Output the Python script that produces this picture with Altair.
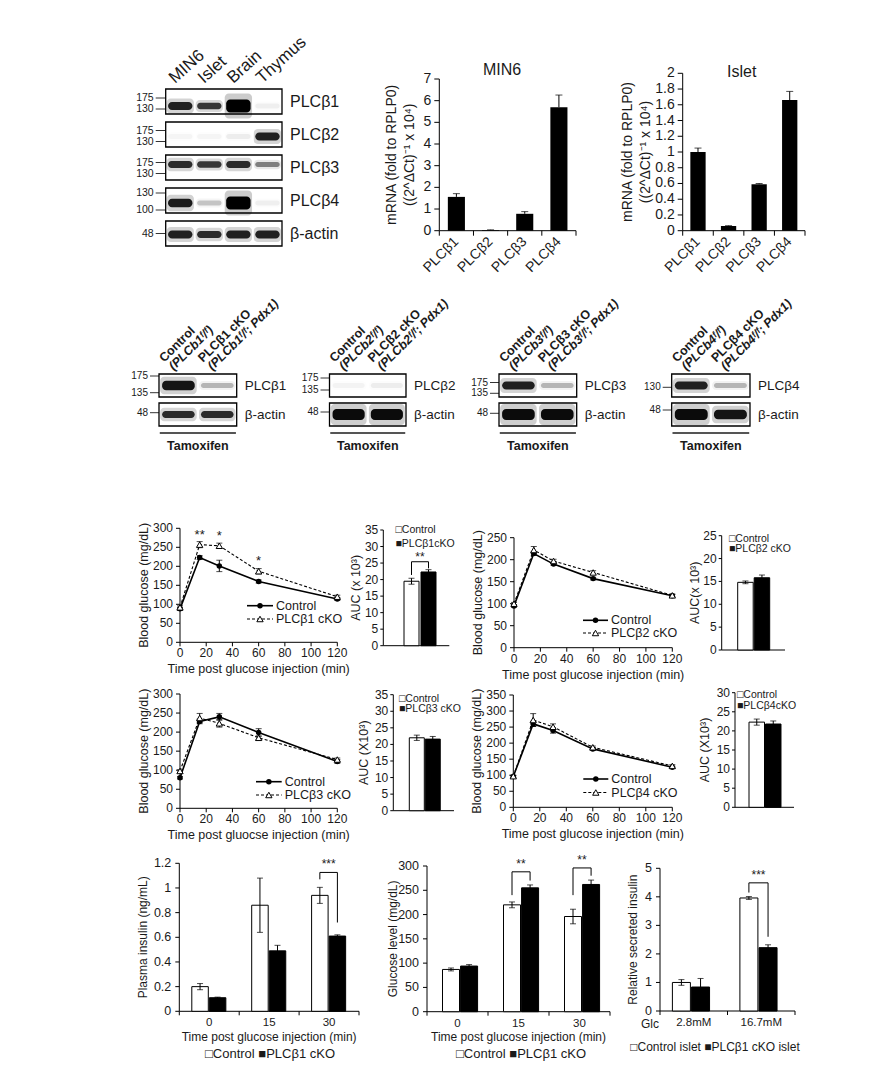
import altair as alt
import pandas as pd

W, H = 880, 1062


def X(p):
    return round(p - 8.0, 2)


def Y(p):
    return round(p - 8.0, 2)


FONT = "Liberation Sans, Arial, Helvetica, sans-serif"
INK = "#1a1a1a"

# ---------------- data ----------------
tissues = ["MIN6", "Islet", "Brain", "Thymus"]
wb_proteins = ["PLCβ1", "PLCβ2", "PLCβ3", "PLCβ4", "β-actin"]
wb_levels = [
    [0.85, 0.75, 1.00, 0.05],
    [0.03, 0.03, 0.06, 0.85],
    [0.80, 0.75, 0.80, 0.45],
    [0.88, 0.20, 1.00, 0.05],
    [0.85, 0.80, 0.85, 0.85],
]
wb_markers = [["175", "130"], ["175", "130"], ["175", "130"], ["130", "100"], ["48"]]

genes = ["PLCβ1", "PLCβ2", "PLCβ3", "PLCβ4"]
min6_mean = [1.56, 0.03, 0.78, 5.70]
min6_err = [0.15, 0.01, 0.10, 0.56]
islet_mean = [1.00, 0.06, 0.59, 1.66]
islet_err = [0.05, 0.004, 0.01, 0.11]
mrna_title = ["mRNA (fold to RPLP0)", "((2^ΔCt)⁻¹ x 10⁴)"]

ko_levels = {
    1: [[0.90, 0.25], [0.80, 0.80]],
    2: [[0.04, 0.06], [0.95, 0.95]],
    3: [[0.85, 0.25], [0.95, 0.95]],
    4: [[0.85, 0.25], [0.95, 0.90]],
}
ko_markers = {
    1: [["175", "135"], ["48"]],
    2: [["175", "135"], ["48"]],
    3: [["175", "135"], ["48"]],
    4: [["130"], ["48"]],
}
treatment = "Tamoxifen"

times = [0, 15, 30, 60, 120]
gtt = {
    1: dict(c=[88, 223, 201, 160, 114], ce=[4, 5, 15, 4, 4],
            k=[92, 257, 254, 187, 120], ke=[4, 8, 7, 7, 4]),
    2: dict(c=[95, 214, 190, 157, 118], ce=[3, 4, 3, 3, 3],
            k=[100, 222, 197, 171, 119], ke=[3, 8, 4, 4, 3]),
    3: dict(c=[80, 228, 240, 199, 123], ce=[3, 6, 9, 10, 5],
            k=[98, 237, 223, 185, 128], ke=[3, 12, 10, 5, 4]),
    4: dict(c=[96, 260, 239, 182, 125], ce=[3, 8, 8, 4, 3],
            k=[97, 272, 251, 187, 129], ke=[3, 20, 9, 4, 4]),
}
gtt1_stars_t = [15, 30, 60]
gtt1_stars_y = [283, 281, 215]
gtt1_stars = ["**", "*", "*"]
glucose_title = "Blood glucose (mg/dL)"

auc = {
    1: dict(c=19.5, ce=0.9, k=22.3, ke=0.7),
    2: dict(c=14.8, ce=0.3, k=15.8, ke=0.6),
    3: dict(c=22.0, ce=0.8, k=21.6, ke=0.8),
    4: dict(c=22.3, ce=0.8, k=21.8, ke=0.8),
}
auc_titles = {1: "AUC (x 10³)", 2: "AUC(x 10³)", 3: "AUC (X10³)", 4: "AUC (X10³)"}
auc_ko_names = {1: "PLCβ1cKO", 2: "PLCβ2 cKO", 3: "PLCβ3 cKO", 4: "PLCβ4cKO"}

ins_groups = ["0", "15", "30"]
ins_ctl = [0.20, 0.86, 0.94]
ins_ctl_e = [0.025, 0.22, 0.065]
ins_ko = [0.11, 0.49, 0.61]
ins_ko_e = [0.005, 0.045, 0.01]

glu_groups = ["0", "15", "30"]
glu_ctl = [87, 220, 196]
glu_ctl_e = [3, 6, 15]
glu_ko = [94, 255, 262]
glu_ko_e = [3, 6, 9]

rel_groups = ["2.8mM", "16.7mM"]
rel_ctl = [1.00, 3.96]
rel_ctl_e = [0.10, 0.05]
rel_ko = [0.84, 2.22]
rel_ko_e = [0.30, 0.10]

time_title = "Time post glucose injection (min)"
time_title_typo = "Time post gluocse injection (min)"

layers = []


# ---------------- helpers ----------------
def qs(domain, r0, r1):
    return alt.Scale(domain=domain, range=[r0, r1], nice=False, zero=False)


def txt(size, **kw):
    base = dict(fontSize=size, font=FONT, color=INK)
    base.update(kw)
    return base


def free_text(t, px, py, size, align="left", weight="normal", angle=0, style="normal"):
    xs = qs([0, 1], X(px), X(px) + 1)
    ys = qs([0, 1], Y(py), Y(py) + 1)
    df = pd.DataFrame({"t": [t], "p": [0]})
    return alt.Chart(df).mark_text(
        **txt(size, align=align, baseline="middle", fontWeight=weight, angle=angle, fontStyle=style)
    ).encode(
        x=alt.X("p:Q", scale=xs, axis=None),
        y=alt.Y("p:Q", scale=ys, axis=None),
        text="t:N",
    )


def axis_layer(x0, x1, ybot, ytop, xdom, ymax, yvals, xticks, xlabels, ytitles, xtitle=None,
               lab_size=12, title_size=13, tick=4, ylab_gap=3, xlab_gap=3, xtitle_gap=24,
               xlab_angle=0, ylab_size=None, xlab_size=None):
    """Axis lines, ticks, tick labels and titles drawn through the panel's scales."""
    xs = qs(xdom, X(x0), X(x1))
    ys = qs([0, ymax], Y(ybot), Y(ytop))
    ux = (xdom[1] - xdom[0]) / (x1 - x0)
    uy = ymax / (ybot - ytop)

    def ex(f):
        return alt.X(f, type="quantitative", scale=xs, axis=None)

    def ey(f):
        return alt.Y(f, type="quantitative", scale=ys, axis=None)

    segs = [dict(a=xdom[0], b=xdom[0], c=0, d=ymax), dict(a=xdom[0], b=xdom[1], c=0, d=0)]
    for v in yvals:
        segs.append(dict(a=xdom[0] - tick * ux, b=xdom[0], c=v, d=v))
    for t in xticks:
        segs.append(dict(a=t, b=t, c=0, d=-tick * uy))
    out = [alt.Chart(pd.DataFrame(segs)).mark_rule(color="black", strokeWidth=1)
           .encode(x=ex("a"), x2="b", y=ey("c"), y2="d")]

    yl = pd.DataFrame({"v": yvals, "t": [f"{v:g}" for v in yvals],
                       "x": [xdom[0] - (tick + ylab_gap) * ux] * len(yvals)})
    out.append(alt.Chart(yl).mark_text(**txt(ylab_size or lab_size, align="right", baseline="middle"))
               .encode(x=ex("x"), y=ey("v"), text="t:N"))

    if xlabels:
        xl = pd.DataFrame({"p": [p for p, _ in xlabels], "t": [s for _, s in xlabels],
                           "y": [-(tick + xlab_gap) * uy] * len(xlabels)})
        if xlab_angle:
            mk = txt(xlab_size or lab_size, align="right", baseline="middle", angle=xlab_angle)
        else:
            mk = txt(xlab_size or lab_size, align="center", baseline="top")
        out.append(alt.Chart(xl).mark_text(**mk).encode(x=ex("p"), y=ey("y"), text="t:N"))

    if ytitles:
        yt = pd.DataFrame({"t": [s for s, _ in ytitles],
                           "x": [xdom[0] - g * ux for _, g in ytitles],
                           "y": [ymax / 2] * len(ytitles)})
        out.append(alt.Chart(yt).mark_text(**txt(title_size, align="center", baseline="middle", angle=270))
                   .encode(x=ex("x"), y=ey("y"), text="t:N"))
    if xtitle:
        xt = pd.DataFrame({"t": [xtitle], "x": [(xdom[0] + xdom[1]) / 2], "y": [-xtitle_gap * uy]})
        out.append(alt.Chart(xt).mark_text(**txt(title_size, align="center", baseline="middle"))
                   .encode(x=ex("x"), y=ey("y"), text="t:N"))
    return alt.layer(*out)


def band_pair_scale(r0, r1, bar_left, bar_w):
    """Padding / align of a two-band scale so that bars sit where they do in the figure."""
    R = r1 - r0
    pI = 0.06
    step = bar_w / (1 - pI)
    pO = (R / step - (2 - pI)) / 2
    if pO > 1:
        pO = 1.0
        pI = max(0.0, (R - 4 * bar_w) / (R - bar_w))
        step = R / (4 - pI)
    pO = max(pO, 0.0)
    outer = 2 * pO * step
    align = min(1.0, max(0.0, (bar_left - r0) / outer)) if outer > 0 else 0.5
    return pI, pO, align, step


def blot(rows, levels, markers, x0, x1, ytop, dyrow, fhalf, mk_off, band_off,
         row_font, mk_font, lane_specs, tam=None, tick_px=10):
    n = len(levels[0])
    m = len(rows)
    lane_px = (x1 - x0) / n
    xs = qs([0, n], X(x0), X(x1))
    ys = qs([0, m], Y(ytop), Y(ytop + m * dyrow))
    fh = fhalf / dyrow

    def ex(f):
        return alt.X(f, type="quantitative", scale=xs, axis=None)

    def ey(f):
        return alt.Y(f, type="quantitative", scale=ys, axis=None)

    fr = pd.DataFrame({
        "a": [0] * m, "b": [n] * m,
        "c": [j + 0.5 - fh for j in range(m)],
        "d": [j + 0.5 + fh for j in range(m)],
    })
    out = [alt.Chart(fr).mark_rect(fill="white", stroke="black", strokeWidth=1.3)
           .encode(x=ex("a"), x2="b", y=ey("c"), y2="d")]

    br = []
    for j, row in enumerate(levels):
        for i, lv in enumerate(row):
            h = (2.4 + 4.2 * lv ** 6) / dyrow
            cy = j + 0.5 + band_off[j] / dyrow
            br.append(dict(a=i + 0.03, b=i + 0.97, c=cy - 1.9 * h, d=cy + 1.9 * h, o=0.2 * lv))
            br.append(dict(a=i + 0.08, b=i + 0.92, c=cy - h, d=cy + h, o=lv))
    out.append(alt.Chart(pd.DataFrame(br)).mark_rect(color="black", cornerRadius=4)
               .encode(x=ex("a"), x2="b", y=ey("c"), y2="d",
                       opacity=alt.Opacity("o:Q", scale=None)))

    mk = []
    for j, labs in enumerate(markers):
        for lab, off in zip(labs, mk_off[j]):
            mk.append(dict(t=lab, y=j + 0.5 + off / dyrow, a=-tick_px / lane_px, b=0))
    mkd = pd.DataFrame(mk)
    out.append(alt.Chart(mkd).mark_rule(color="black", strokeWidth=0.8)
               .encode(x=ex("a"), x2="b", y=ey("y")))
    out.append(alt.Chart(mkd).mark_text(**txt(mk_font, align="right", baseline="middle", dx=-2))
               .encode(x=ex("a"), y=ey("y"), text="t:N"))

    rl = pd.DataFrame({"t": rows, "x": [n] * m, "y": [j + 0.5 for j in range(m)]})
    out.append(alt.Chart(rl).mark_text(**txt(row_font, align="left", baseline="middle", dx=8))
               .encode(x=ex("x"), y=ey("y"), text="t:N"))

    for spec in lane_specs:
        ld = pd.DataFrame({
            "t": spec["texts"],
            "x": [i + spec["pos"] for i in range(n)],
            "y": [0.5 - fh - spec["gap"] / dyrow] * n,
        })
        out.append(alt.Chart(ld).mark_text(**txt(
            spec["size"], align="left", baseline="alphabetic",
            fontWeight=spec.get("weight", "normal"), fontStyle=spec.get("style", "normal"),
            angle=spec["angle"], dx=spec.get("dx", 0), dy=spec.get("dy", 0),
        )).encode(x=ex("x"), y=ey("y"), text="t:N"))

    if tam is not None:
        ty_line = (tam["line"] - ytop) / dyrow
        ty_text = (tam["text"] - ytop) / dyrow
        td = pd.DataFrame({"a": [0.02], "b": [n - 0.02], "y": [ty_line], "y2": [ty_text],
                           "m": [n / 2], "t": [treatment]})
        out.append(alt.Chart(td).mark_rule(color="#555", strokeWidth=2.2)
                   .encode(x=ex("a"), x2="b", y=ey("y")))
        out.append(alt.Chart(td).mark_text(**txt(12.5, fontWeight="bold", baseline="middle"))
                   .encode(x=ex("m"), y=ey("y2"), text="t:N"))
    return alt.layer(*out)


def mrna_panel(mean, err, x0, x1, ybot, ytop, ymax):
    df = pd.DataFrame({"g": genes, "v": mean, "hi": [a + b for a, b in zip(mean, err)]})
    xs = alt.Scale(type="band", domain=genes, range=[X(x0), X(x1)], paddingInner=0.5, paddingOuter=0.25)
    ys = qs([0, ymax], Y(ybot), Y(ytop))
    ex = alt.X("g:N", scale=xs, sort=genes, axis=None)
    base = alt.Chart(df)
    bars = base.mark_bar(color="black").encode(x=ex, y=alt.Y("v:Q", scale=ys, axis=None))
    er = base.mark_rule(color="black").encode(x=ex, y=alt.Y("v:Q", scale=ys, axis=None), y2="hi:Q")
    cap = base.mark_tick(orient="horizontal", size=7, thickness=1, color="black").encode(
        x=ex, y=alt.Y("hi:Q", scale=ys, axis=None))
    return alt.layer(bars, er, cap)


def gtt_panel(d, x0, x1, ybot, ytop, ymax, stars=None):
    rows = []
    for s, vals, errs in (("ctl", d["c"], d["ce"]), ("ko", d["k"], d["ke"])):
        for t, v, e in zip(times, vals, errs):
            rows.append(dict(s=s, t=t, v=v, lo=v - e, hi=v + e))
    df = pd.DataFrame(rows)
    xs = qs([0, 120], X(x0), X(x1))
    ys = qs([0, ymax], Y(ybot), Y(ytop))
    ex = alt.X("t:Q", scale=xs, axis=None)
    ey = alt.Y("v:Q", scale=ys, axis=None)
    base = alt.Chart(df)
    ctl = base.transform_filter("datum.s == 'ctl'")
    ko = base.transform_filter("datum.s == 'ko'")
    out = [
        base.mark_rule(color="black", strokeWidth=1).encode(
            x=ex, y=alt.Y("lo:Q", scale=ys, axis=None), y2="hi:Q"),
        base.mark_tick(orient="horizontal", size=6, thickness=1, color="black").encode(
            x=ex, y=alt.Y("hi:Q", scale=ys, axis=None)),
        base.mark_tick(orient="horizontal", size=6, thickness=1, color="black").encode(
            x=ex, y=alt.Y("lo:Q", scale=ys, axis=None)),
        ctl.mark_line(color="black", strokeWidth=1.6).encode(x=ex, y=ey),
        ko.mark_line(color="black", strokeWidth=1.1, strokeDash=[3, 2]).encode(x=ex, y=ey),
        ctl.mark_point(shape="circle", filled=True, color="black", size=30, opacity=1).encode(x=ex, y=ey),
        ko.mark_point(shape="triangle-up", filled=True, fill="white", stroke="black",
                      strokeWidth=1, size=40, opacity=1).encode(x=ex, y=ey),
    ]
    if stars:
        sd = pd.DataFrame({"t": stars[0], "v": stars[1], "s": stars[2]})
        out.append(alt.Chart(sd).mark_text(**txt(13, baseline="middle"))
                   .encode(x=ex, y=ey, text="s:N"))
    return alt.layer(*out)


def gtt_legend(ko_name, l0, l1, yc, yk, size=12.5):
    xs = qs([0, 1], X(l0), X(l1))
    ys = alt.Scale(type="point", domain=["ctl", "ko"], range=[Y(yc), Y(yk)], padding=0)
    df = pd.DataFrame({"s": ["ctl", "ko"], "lab": ["Control", ko_name],
                       "a": [0, 0], "b": [1, 1], "m": [0.5, 0.5]})
    ey = alt.Y("s:N", scale=ys, axis=None)
    base = alt.Chart(df)
    ctl = base.transform_filter("datum.s == 'ctl'")
    ko = base.transform_filter("datum.s == 'ko'")
    return alt.layer(
        ctl.mark_rule(color="black", strokeWidth=1.6).encode(
            x=alt.X("a:Q", scale=xs, axis=None), x2="b", y=ey),
        ko.mark_rule(color="black", strokeWidth=1.1, strokeDash=[3, 2]).encode(
            x=alt.X("a:Q", scale=xs, axis=None), x2="b", y=ey),
        ctl.mark_point(shape="circle", filled=True, color="black", size=30, opacity=1).encode(
            x=alt.X("m:Q", scale=xs, axis=None), y=ey),
        ko.mark_point(shape="triangle-up", filled=True, fill="white", stroke="black",
                      strokeWidth=1, size=40, opacity=1).encode(
            x=alt.X("m:Q", scale=xs, axis=None), y=ey),
        base.mark_text(**txt(size, align="left", baseline="middle", dx=3)).encode(
            x=alt.X("b:Q", scale=xs, axis=None), y=ey, text="lab:N"),
    )


def auc_panel(d, x0, x1, ybot, ytop, ymax, bar_left, bar_w, bracket=None):
    s = ["ctl", "ko"]
    pI, pO, align, step = band_pair_scale(x0, x1, bar_left, bar_w)
    xs = alt.Scale(type="band", domain=s, range=[X(x0), X(x1)], paddingInner=pI,
                   paddingOuter=pO, align=align)
    ys = qs([0, ymax], Y(ybot), Y(ytop))
    df = pd.DataFrame({"s": s, "v": [d["c"], d["k"]],
                       "lo": [d["c"] - d["ce"], d["k"] - d["ke"]],
                       "hi": [d["c"] + d["ce"], d["k"] + d["ke"]]})
    ex = alt.X("s:N", scale=xs, sort=s, axis=None)
    base = alt.Chart(df)
    out = [
        base.mark_bar(stroke="black", strokeWidth=1).encode(
            x=ex, y=alt.Y("v:Q", scale=ys, axis=None),
            fill=alt.condition("datum.s == 'ctl'", alt.value("white"), alt.value("black"))),
        base.mark_rule(color="black").encode(x=ex, y=alt.Y("lo:Q", scale=ys, axis=None), y2="hi:Q"),
        base.mark_tick(orient="horizontal", size=6, thickness=1, color="black").encode(
            x=ex, y=alt.Y("hi:Q", scale=ys, axis=None)),
        base.mark_tick(orient="horizontal", size=6, thickness=1, color="black").encode(
            x=ex, y=alt.Y("lo:Q", scale=ys, axis=None)),
    ]
    if bracket:
        lo_l, top, lo_r, star = bracket
        bd = pd.DataFrame({"s": ["ctl", "ctl", "ko", "ko"], "y": [lo_l, top, top, lo_r], "o": [0, 1, 2, 3]})
        out.append(alt.Chart(bd).mark_line(color="black", strokeWidth=1).encode(
            x=ex, y=alt.Y("y:Q", scale=ys, axis=None), order="o:Q"))
        td = pd.DataFrame({"s": ["ctl"], "y": [top], "t": [star]})
        out.append(alt.Chart(td).mark_text(**txt(12, baseline="bottom", dx=step / 2, dy=2))
                   .encode(x=ex, y=alt.Y("y:Q", scale=ys, axis=None), text="t:N"))
    return alt.layer(*out)


def grouped_panel(groups, c, ce, k, ke, x0, x1, ybot, ytop, ymax, off0, bw, brackets):
    n = len(groups)
    gw = (x1 - x0) / n
    pI, pO, align, step = band_pair_scale(0.0, gw, off0, bw)
    xs = alt.Scale(type="band", domain=groups, range=[X(x0), X(x1)], paddingInner=0, paddingOuter=0)
    xo = alt.Scale(type="band", domain=["ctl", "ko"], paddingInner=pI, paddingOuter=pO, align=align)
    ys = qs([0, ymax], Y(ybot), Y(ytop))
    rows = []
    for s, vals, errs in (("ctl", c, ce), ("ko", k, ke)):
        for g, v, e in zip(groups, vals, errs):
            rows.append(dict(g=g, s=s, v=v, lo=v - e, hi=v + e))
    df = pd.DataFrame(rows)
    ex = alt.X("g:N", scale=xs, sort=groups, axis=None)
    eo = alt.XOffset("s:N", scale=xo, sort=["ctl", "ko"])
    base = alt.Chart(df)
    out = [
        base.mark_bar(stroke="black", strokeWidth=1).encode(
            x=ex, xOffset=eo, y=alt.Y("v:Q", scale=ys, axis=None),
            fill=alt.condition("datum.s == 'ctl'", alt.value("white"), alt.value("black"))),
        base.mark_rule(color="black").encode(
            x=ex, xOffset=eo, y=alt.Y("lo:Q", scale=ys, axis=None), y2="hi:Q"),
        base.mark_tick(orient="horizontal", size=6, thickness=1, color="black").encode(
            x=ex, xOffset=eo, y=alt.Y("hi:Q", scale=ys, axis=None)),
        base.mark_tick(orient="horizontal", size=6, thickness=1, color="black").encode(
            x=ex, xOffset=eo, y=alt.Y("lo:Q", scale=ys, axis=None)),
    ]
    if brackets:
        bl, tl = [], []
        for bi, (g, lo_l, top, lo_r, star) in enumerate(brackets):
            for o, (s, y) in enumerate([("ctl", lo_l), ("ctl", top), ("ko", top), ("ko", lo_r)]):
                bl.append(dict(id=bi, g=g, s=s, y=y, o=o))
            tl.append(dict(g=g, s="ctl", y=top, t=star))
        out.append(alt.Chart(pd.DataFrame(bl)).mark_line(color="black", strokeWidth=1).encode(
            x=ex, xOffset=eo, y=alt.Y("y:Q", scale=ys, axis=None), order="o:Q", detail="id:N"))
        out.append(alt.Chart(pd.DataFrame(tl)).mark_text(**txt(12, baseline="bottom", dx=step / 2, dy=-1))
                   .encode(x=ex, xOffset=eo, y=alt.Y("y:Q", scale=ys, axis=None), text="t:N"))
    return alt.layer(*out)


def cat_axis(cats):
    """Tick positions (band edges) and label positions (band centres) in category units."""
    return list(range(len(cats) + 1)), [(i + 0.5, c) for i, c in enumerate(cats)]


# ---------------- Row 1 ----------------
layers.append(blot(
    wb_proteins, wb_levels, wb_markers, 165.7, 282.0, 85.0, 33.0, 12.5,
    [[-3.5, 7.5], [-4, 7], [-5, 6], [-7.5, 9.5], [0]],
    [4.5, 2, -3, 2.5, 1], 16, 10.5,
    [dict(texts=tissues, pos=0.32, gap=5, size=17, angle=318)],
    tick_px=10,
))

for mean, err, x0, x1, ytop, ymax, yvals, gaps in (
    (min6_mean, min6_err, 439.3, 576.0, 79.0, 7, list(range(0, 8)), (47, 29)),
    (islet_mean, islet_err, 682.7, 805.0, 73.3, 2, [round(0.2 * i, 1) for i in range(11)], (55, 37)),
):
    layers.append(mrna_panel(mean, err, x0, x1, 230.7, ytop, ymax))
    ticks, labs = cat_axis(genes)
    layers.append(axis_layer(
        x0, x1, 230.7, ytop, [0, len(genes)], ymax, yvals, ticks, labs,
        [(mrna_title[0], gaps[0]), (mrna_title[1], gaps[1])],
        lab_size=14, title_size=14, tick=5, ylab_gap=3, xlab_gap=4, xlab_angle=315, ylab_size=14,
    ))
layers.append(free_text("MIN6", 502, 70, 16, align="center"))
layers.append(free_text("Islet", 741.7, 71.7, 16, align="center"))

# ---------------- Row 2 ----------------
ko_boxes = {1: (159.0, 236.7), 2: (329.5, 406.0), 3: (499.0, 576.7), 4: (671.7, 750.0)}
ko_mk_off = {1: [[-9.5, 7.2], [-1.8]], 2: [[-7.5, 4.5], [-2.5]],
             3: [[-3, 7.8], [-1.2]], 4: [[1.8], [-4.5]]}
for kk in (1, 2, 3, 4):
    x0, x1 = ko_boxes[kk]
    line1 = ["Control", f"PLCβ{kk} cKO"]
    line2 = [f"(PLCb{kk}ᶠ/ᶠ)", f"(PLCb{kk}ᶠ/ᶠ; Pdx1)"]
    layers.append(blot(
        [f"PLCβ{kk}", "β-actin"], ko_levels[kk], ko_markers[kk], x0, x1, 371.0, 29.0, 11.5,
        ko_mk_off[kk], [0, 0], 13.5, 10,
        [dict(texts=line2, pos=0.38, gap=3, size=12.5, angle=315, weight="bold", style="italic"),
         dict(texts=line1, pos=0.38, gap=3, size=12.5, angle=315, weight="bold", dy=-12.5, dx=-1)],
        tam=dict(line=433.0, text=445.5), tick_px=9,
    ))

# ---------------- Rows 3-4: GTT + AUC ----------------
gtt_layout = {
    1: dict(x0=180.0, x1=337.3, ybot=642.3, ytop=528.3, ymax=300, title=time_title,
            leg=(247, 273, 605.7, 619.0)),
    2: dict(x0=514.0, x1=672.3, ybot=647.7, ytop=537.7, ymax=250, title=time_title,
            leg=(583, 608, 620.3, 633.0)),
    3: dict(x0=180.0, x1=337.3, ybot=808.3, ytop=694.0, ymax=300, title=time_title_typo,
            leg=(256, 281.7, 781.7, 795.0)),
    4: dict(x0=513.3, x1=672.3, ybot=807.3, ytop=695.0, ymax=350, title=time_title,
            leg=(583.3, 608.3, 779.0, 792.5)),
}
auc_layout = {
    1: dict(x0=383.3, x1=449.3, ybot=645.7, ytop=530.0, ymax=35, left=404.0, w=15.0, gap=27,
            leg=(395.5, 530.0, 544.3)),
    2: dict(x0=721.7, x1=785.0, ybot=650.0, ytop=535.7, ymax=25, left=737.7, w=15.5, gap=27,
            leg=(729.0, 539.0, 549.3)),
    3: dict(x0=393.3, x1=454.0, ybot=810.7, ytop=694.7, ymax=35, left=409.3, w=15.0, gap=29,
            leg=(399.0, 699.0, 709.0)),
    4: dict(x0=735.0, x1=794.0, ybot=807.3, ytop=692.7, ymax=30, left=749.0, w=15.5, gap=30,
            leg=(737.0, 695.0, 706.0)),
}
for kk in (1, 2, 3, 4):
    g = gtt_layout[kk]
    stars = (gtt1_stars_t, gtt1_stars_y, gtt1_stars) if kk == 1 else None
    layers.append(axis_layer(
        g["x0"], g["x1"], g["ybot"], g["ytop"], [0, 120], g["ymax"],
        list(range(0, g["ymax"] + 1, 50)), list(range(0, 121, 20)),
        [(t, str(t)) for t in range(0, 121, 20)], [(glucose_title, 36)], g["title"],
        lab_size=12, title_size=12.5, tick=4, ylab_gap=3, xlab_gap=2, xtitle_gap=27,
    ))
    layers.append(gtt_panel(gtt[kk], g["x0"], g["x1"], g["ybot"], g["ytop"], g["ymax"], stars=stars))
    layers.append(gtt_legend(f"PLCβ{kk} cKO", *g["leg"]))

    a = auc_layout[kk]
    bracket = (21.4, 25.4, 23.4, "**") if kk == 1 else None
    layers.append(axis_layer(
        a["x0"], a["x1"], a["ybot"], a["ytop"], [0, 1], a["ymax"],
        list(range(0, a["ymax"] + 1, 5)), [], [], [(auc_titles[kk], a["gap"])],
        lab_size=12, title_size=12.5, tick=3, ylab_gap=2,
    ))
    layers.append(auc_panel(auc[kk], a["x0"], a["x1"], a["ybot"], a["ytop"], a["ymax"],
                            a["left"], a["w"], bracket=bracket))
    lx, ly1, ly2 = a["leg"]
    layers.append(free_text("□Control", lx, ly1, 10.5))
    layers.append(free_text("■" + auc_ko_names[kk], lx, ly2, 10.5))

# ---------------- Row 5 ----------------
row5 = [
    dict(groups=ins_groups, c=ins_ctl, ce=ins_ctl_e, k=ins_ko, ke=ins_ko_e,
         x0=179.3, x1=359.0, ybot=1011.3, ytop=863.3, ymax=1.2,
         yvals=[round(0.2 * i, 1) for i in range(7)], ytitle="Plasma insulin (ng/mL)", gap=36,
         xtitle=time_title, off0=12.5, bw=16.5,
         brackets=[("30", 1.07, 1.126, 0.72, "***")]),
    dict(groups=glu_groups, c=glu_ctl, ce=glu_ctl_e, k=glu_ko, ke=glu_ko_e,
         x0=427.0, x1=610.0, ybot=1011.7, ytop=866.0, ymax=300,
         yvals=list(range(0, 301, 50)), ytitle="Glucose level (mg/dL)", gap=34,
         xtitle=time_title, off0=15.5, bw=17.0,
         brackets=[("15", 240, 288, 270, "**"), ("30", 240, 296, 280, "**")]),
    dict(groups=rel_groups, c=rel_ctl, ce=rel_ctl_e, k=rel_ko, ke=rel_ko_e,
         x0=660.0, x1=795.0, ybot=1011.0, ytop=868.3, ymax=5,
         yvals=list(range(0, 6)), ytitle="Relative secreted insulin", gap=27,
         xtitle=None, off0=12.4, bw=18.0,
         brackets=[("16.7mM", 4.15, 4.49, 2.6, "***")]),
]
for p in row5:
    ticks, labs = cat_axis(p["groups"])
    layers.append(axis_layer(
        p["x0"], p["x1"], p["ybot"], p["ytop"], [0, len(p["groups"])], p["ymax"], p["yvals"],
        ticks, labs, [(p["ytitle"], p["gap"])], p["xtitle"],
        lab_size=12.5, title_size=12, tick=4, ylab_gap=4, xlab_gap=2, xtitle_gap=25.5,
        xlab_size=11.5,
    ))
    layers.append(grouped_panel(p["groups"], p["c"], p["ce"], p["k"], p["ke"], p["x0"], p["x1"],
                                p["ybot"], p["ytop"], p["ymax"], p["off0"], p["bw"], p["brackets"]))
layers.append(free_text("□Control  ■PLCβ1 cKO", 270, 1053.5, 13, align="center"))
layers.append(free_text("□Control  ■PLCβ1 cKO", 521, 1053.5, 13, align="center"))
layers.append(free_text("Glc", 641.0, 1023.5, 12))
layers.append(free_text("□Control islet  ■PLCβ1 cKO islet", 715, 1046.7, 12, align="center"))

chart = alt.layer(*layers).resolve_scale(
    x="independent", y="independent", xOffset="independent"
).properties(
    width=W, height=H, padding=0, autosize=alt.AutoSizeParams(type="none"), background="white"
).configure_view(stroke=None).configure_text(font=FONT)

chart.save("out.html", embed_options={"renderer": "svg", "actions": False})
